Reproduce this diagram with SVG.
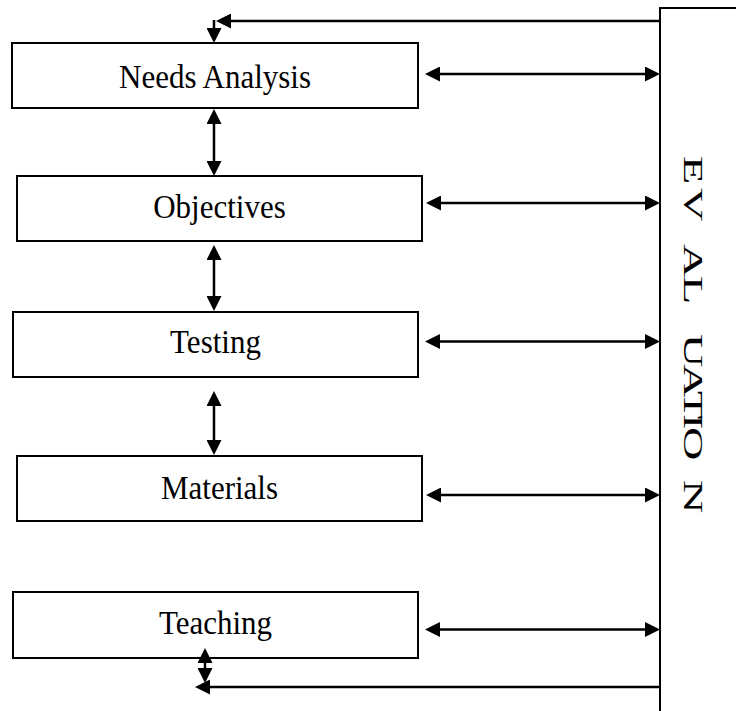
<svg xmlns="http://www.w3.org/2000/svg" width="736" height="711" viewBox="0 0 736 711">
  <style>
    .box { fill: #ffffff; stroke: #000000; stroke-width: 2; }
    .lbl { font-family: "Liberation Serif", "Times New Roman", serif; font-size: 31px; fill: #000000; text-anchor: middle; }
    .eval { font-family: "Liberation Serif", "Times New Roman", serif; font-size: 28px; fill: #000000; }
    .conn { stroke: #000000; stroke-width: 2.5; fill: none; }
    .one { marker-end: url(#head); }
    .two { marker-start: url(#tail); marker-end: url(#head); }
  </style>
  <defs>
    <marker id="head" markerUnits="userSpaceOnUse" markerWidth="15" markerHeight="15" refX="5" refY="7.5" orient="auto">
      <path d="M0,0 L15,7.5 L0,15 z" fill="#000000"/>
    </marker>
    <marker id="tail" markerUnits="userSpaceOnUse" markerWidth="15" markerHeight="15" refX="10" refY="7.5" orient="auto">
      <path d="M15,0 L0,7.5 L15,15 z" fill="#000000"/>
    </marker>
  </defs>
  <rect width="736" height="711" fill="#ffffff"/>

  <!-- evaluation column on the right -->
  <g id="evaluation">
    <rect class="box" x="660" y="8" width="120" height="720" stroke-width="2.5"/>
    <text class="eval" transform="translate(684,0) rotate(90) scale(1.65,1)" x="94.5 113.9 130.3 147.9 167.3 181.8 202.4 220.6 237 250.9 258.8 277.6 290.9">EV AL UATIO N</text>
  </g>

  <g id="needs-analysis">
    <rect class="box" x="12" y="43" width="406" height="65"/>
    <text class="lbl" transform="translate(215,87.5) scale(1,1.1)">Needs Analysis</text>
  </g>
  <g id="objectives">
    <rect class="box" x="17" y="176" width="405" height="65"/>
    <text class="lbl" transform="translate(219.5,218) scale(1,1.1)">Objectives</text>
  </g>
  <g id="testing">
    <rect class="box" x="13" y="312" width="405" height="65"/>
    <text class="lbl" transform="translate(215.5,353) scale(1,1.1)">Testing</text>
  </g>
  <g id="materials">
    <rect class="box" x="17" y="456" width="405" height="65"/>
    <text class="lbl" transform="translate(219.5,498.5) scale(1,1.1)">Materials</text>
  </g>
  <g id="teaching">
    <rect class="box" x="13" y="592" width="405" height="66"/>
    <text class="lbl" transform="translate(215.5,634) scale(1,1.1)">Teaching</text>
  </g>

  <g id="connectors">
    <!-- feedback loop along the top -->
    <line class="conn one" x1="660" y1="21" x2="226" y2="21"/>
    <line class="conn one" x1="214" y1="20" x2="214" y2="33"/>
    <!-- links between each stage and evaluation -->
    <line class="conn two" x1="435" y1="74" x2="650" y2="74"/>
    <line class="conn two" x1="436" y1="203" x2="650" y2="203"/>
    <line class="conn two" x1="435" y1="341.5" x2="650" y2="341.5"/>
    <line class="conn two" x1="436" y1="495" x2="650" y2="495"/>
    <line class="conn two" x1="435" y1="629.5" x2="650" y2="629.5"/>
    <!-- links between successive stages -->
    <line class="conn two" x1="214" y1="119" x2="214" y2="166"/>
    <line class="conn two" x1="214" y1="255" x2="214" y2="301"/>
    <line class="conn two" x1="214" y1="401" x2="214" y2="445"/>
    <line class="conn two" x1="205" y1="658" x2="205" y2="673"/>
    <!-- feedback loop along the bottom -->
    <line class="conn one" x1="660" y1="687" x2="205" y2="687"/>
  </g>
</svg>
